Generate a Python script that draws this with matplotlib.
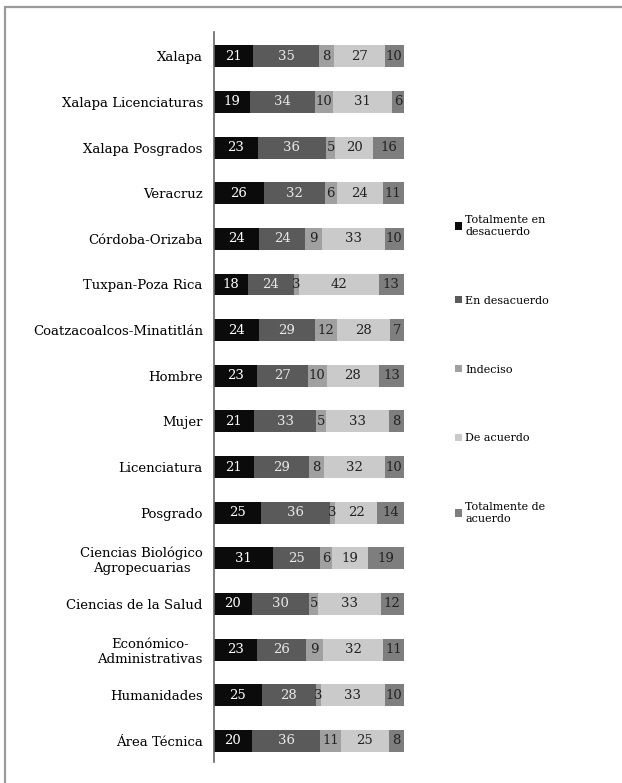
import matplotlib
matplotlib.use("Agg")
import matplotlib.pyplot as plt
import matplotlib.patches as mpatches
import numpy as np

# categorias (de cima para baixo)
categorias = [
    "Xalapa", "Xalapa Licenciaturas", "Xalapa Posgrados", "Veracruz",
    "Córdoba-Orizaba", "Tuxpan-Poza Rica", "Coatzacoalcos-Minatitlán",
    "Hombre", "Mujer", "Licenciatura", "Posgrado",
    "Ciencias Biológico\nAgropecuarias", "Ciencias de la Salud",
    "Económico-\nAdministrativas", "Humanidades", "Área Técnica",
]

tot_desacuerdo = [21, 19, 23, 26, 24, 18, 24, 23, 21, 21, 25, 31, 20, 23, 25, 20]
en_desacuerdo = [35, 34, 36, 32, 24, 24, 29, 27, 33, 29, 36, 25, 30, 26, 28, 36]
indeciso = [8, 10, 5, 6, 9, 3, 12, 10, 5, 8, 3, 6, 5, 9, 3, 11]
de_acuerdo = [27, 31, 20, 24, 33, 42, 28, 28, 33, 32, 22, 19, 33, 32, 33, 25]
tot_acuerdo = [10, 6, 16, 11, 10, 13, 7, 13, 8, 10, 14, 19, 12, 11, 10, 8]

series = ["Totalmente en\ndesacuerdo", "En desacuerdo", "Indeciso",
          "De acuerdo", "Totalmente de\nacuerdo"]
cores = ["#0b0b0b", "#5a5a5a", "#a0a0a0", "#cacaca", "#7e7e7e"]
cor_texto = ["white", "#e8e8e8", "#222222", "#222222", "#222222"]

plt.rcParams["font.family"] = ["DejaVu Serif"]

dados = np.array([tot_desacuerdo, en_desacuerdo, indeciso, de_acuerdo, tot_acuerdo], dtype=float)
pct = dados / dados.sum(axis=0) * 100  # barras 100% empilhadas

fig = plt.figure(figsize=(6.22, 7.83), dpi=100)
ax = fig.add_axes([0.344, 0.027, 0.305, 0.932])

y = np.arange(len(categorias))
esquerda = np.zeros(len(categorias))
for i in range(len(series)):
    barras = ax.barh(y, pct[i], left=esquerda, height=0.48, color=cores[i],
                     label=series[i])
    ax.bar_label(barras, labels=[str(v) for v in dados[i].astype(int)],
                 label_type="center", color=cor_texto[i], fontsize=9.5)
    esquerda += pct[i]

ax.set_ylim(15.46, -0.53)
ax.set_xlim(0, 100)
ax.set_yticks(y)
ax.set_yticklabels(categorias, fontsize=9.5, multialignment="center")
ax.tick_params(axis="y", length=0, pad=8)
ax.set_xticks([])
for s in ["top", "right", "bottom"]:
    ax.spines[s].set_visible(False)
ax.spines["left"].set_color("#666666")
ax.spines["left"].set_linewidth(1.2)

fig.legend(loc="upper left", bbox_to_anchor=(0.715, 0.738), frameon=False,
           fontsize=8, handlelength=0.65, handleheight=0.65, handletextpad=0.3,
           labelspacing=5.3)

# moldura cinza
moldura = mpatches.Rectangle((5 / 622, -0.05), 1.1, 1 - 7 / 783 + 0.05,
                             transform=fig.transFigure, fill=False,
                             edgecolor="#9a9a9a", linewidth=1.6, clip_on=False)
fig.patches.append(moldura)

fig.savefig("out.png", dpi=100)
